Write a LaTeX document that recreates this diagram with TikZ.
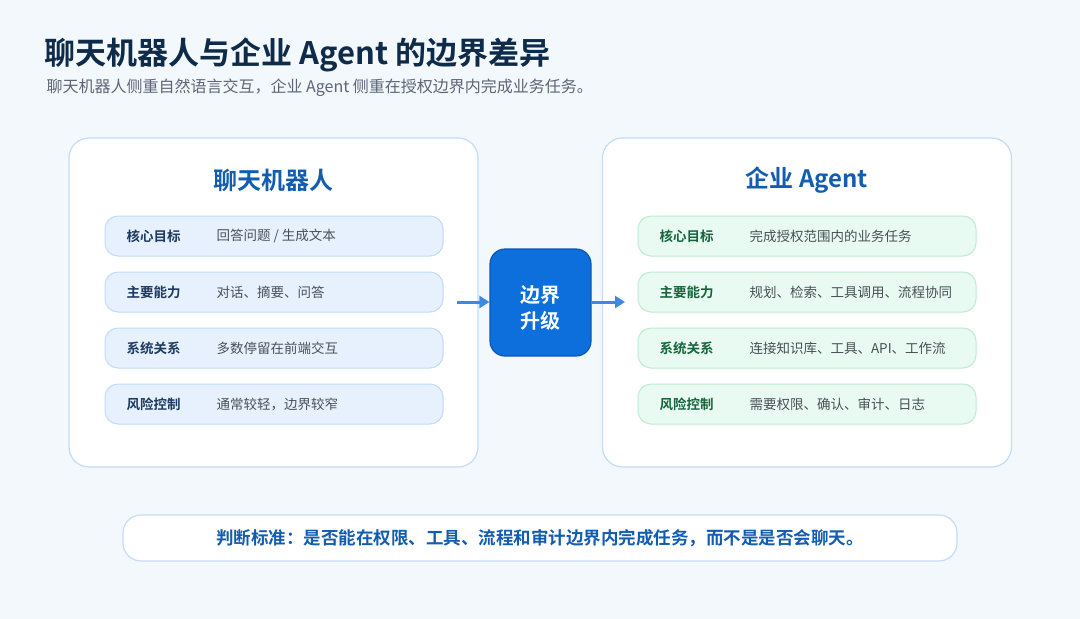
\documentclass[tikz,border=0pt]{standalone}
\usepackage{fontspec}
\setmainfont{Noto Sans CJK SC}[BoldFont={Noto Sans CJK SC Bold}]
\usetikzlibrary{arrows.meta}

\definecolor{pagebg}{HTML}{F3F8FD}
\definecolor{navy}{HTML}{0F2B4A}
\definecolor{subgray}{HTML}{5B6676}
\definecolor{cardline}{HTML}{C4DCF8}
\definecolor{titleblue}{HTML}{135DB0}
\definecolor{bluefill}{HTML}{E7F1FD}
\definecolor{blueline}{HTML}{C2DBF8}
\definecolor{bluelabel}{HTML}{1D3A60}
\definecolor{greenfill}{HTML}{E8FAF1}
\definecolor{greenline}{HTML}{BDEBD3}
\definecolor{greenlabel}{HTML}{17643D}
\definecolor{valgray}{HTML}{4A4F57}
\definecolor{midblue}{HTML}{0C6FDB}
\definecolor{midline}{HTML}{0A58B0}
\definecolor{arrblue}{HTML}{3A8AE2}

\tikzset{
  card/.style={draw=cardline, fill=white, line width=1.2pt, rounded corners=20pt,
    minimum width=409pt, minimum height=329pt, inner sep=0pt},
  rowL/.style={draw=blueline, fill=bluefill, line width=1pt, rounded corners=13pt,
    minimum width=338pt, minimum height=40pt, inner sep=0pt},
  rowR/.style={draw=greenline, fill=greenfill, line width=1pt, rounded corners=13pt,
    minimum width=338pt, minimum height=40pt, inner sep=0pt},
  keyL/.style={anchor=west, font=\fontsize{13.5}{16}\selectfont\bfseries, text=bluelabel},
  keyR/.style={anchor=west, font=\fontsize{13.5}{16}\selectfont\bfseries, text=greenlabel},
  val/.style={anchor=west, font=\fontsize{13.5}{16}\selectfont, text=valgray},
  head/.style={font=\fontsize{24}{28}\selectfont\bfseries, text=titleblue},
  arr/.style={draw=arrblue, line width=3pt, -{Triangle[length=10pt,width=12pt]}}
}

\begin{document}
\begin{tikzpicture}[x=1pt,y=-1pt]
	\fill[pagebg] (0,0) rectangle (1080,619);
	\useasboundingbox (0,0) rectangle (1080,619);

	% title
	\node[anchor=west, font=\fontsize{31}{36}\selectfont\bfseries, text=navy] (title) at (41,55) {聊天机器人与企业 Agent 的边界差异};
	\node[anchor=west, font=\fontsize{16}{19}\selectfont, text=subgray] (subtitle) at (43,88) {聊天机器人侧重自然语言交互，企业 Agent 侧重在授权边界内完成业务任务。};

	% cards
	\node[card] (chatcard) at (273.5,302.5) {};
	\node[card] (agentcard) at (807,302.5) {};
	\node[head] (chathead) at (273.5,180) {聊天机器人};
	\node[head] (agenthead) at (807,180) {企业 Agent};

	% left rows
	\node[rowL] (l1) at (274,236) {};
	\node[rowL] (l2) at (274,292) {};
	\node[rowL] (l3) at (274,348) {};
	\node[rowL] (l4) at (274,404) {};
	\node[keyL] at (123,236) {核心目标};
	\node[keyL] at (123,292) {主要能力};
	\node[keyL] at (123,348) {系统关系};
	\node[keyL] at (123,404) {风险控制};
	\node[val] at (213,236) {回答问题 / 生成文本};
	\node[val] at (213,292) {对话、摘要、问答};
	\node[val] at (213,348) {多数停留在前端交互};
	\node[val] at (213,404) {通常较轻，边界较窄};

	% right rows
	\node[rowR] (r1) at (807,236) {};
	\node[rowR] (r2) at (807,292) {};
	\node[rowR] (r3) at (807,348) {};
	\node[rowR] (r4) at (807,404) {};
	\node[keyR] at (656,236) {核心目标};
	\node[keyR] at (656,292) {主要能力};
	\node[keyR] at (656,348) {系统关系};
	\node[keyR] at (656,404) {风险控制};
	\node[val] at (746,236) {完成授权范围内的业务任务};
	\node[val] at (746,292) {规划、检索、工具调用、流程协同};
	\node[val] at (746,348) {连接知识库、工具、API、工作流};
	\node[val] at (746,404) {需要权限、确认、审计、日志};

	% middle
	\node[draw=midline, fill=midblue, line width=1.2pt, rounded corners=15pt,
	  minimum width=101pt, minimum height=107pt, inner sep=0pt] (upgrade) at (540.5,302.5) {};
	\node[align=center, text=white, font=\fontsize{20}{26}\selectfont\bfseries] (upgradetxt) at (540.5,308) {边界\\升级};
	\coordinate (inL) at (457,302);
	\coordinate (outR) at (625,302);
	\draw[arr] (inL) -- (upgrade.west |- inL);
	\draw[arr] (upgrade.east |- outR) -- (outR);

	% bottom
	\node[draw=cardline, fill=white, line width=1.2pt, rounded corners=18pt,
	  minimum width=834pt, minimum height=46pt, text=titleblue,
	  font=\fontsize{17.5}{21}\selectfont\bfseries] (verdict) at (540,538) {判断标准：是否能在权限、工具、流程和审计边界内完成任务，而不是是否会聊天。};

\end{tikzpicture}
\end{document}
